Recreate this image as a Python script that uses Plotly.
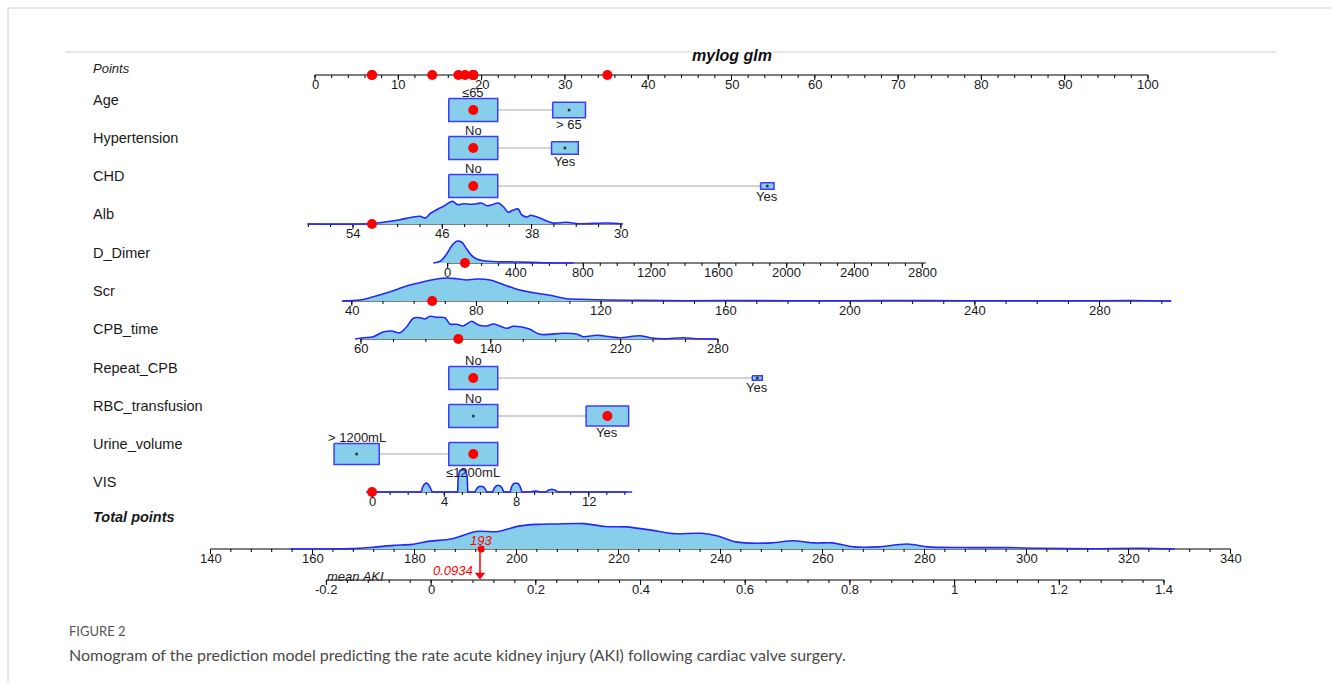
import math
import plotly.graph_objects as go

W, H = 1331, 682

# ---------------- data ----------------
points_ticks = [0, 10, 20, 30, 40, 50, 60, 70, 80, 90, 100]
points_minor = 2

# categorical variables: levels, points, relative frequency
age_levels = ["≤65", "> 65"]
age_points = [19.0, 30.5]
age_freq = [0.69, 0.31]

ht_levels = ["No", "Yes"]
ht_points = [19.0, 30.0]
ht_freq = [0.77, 0.23]

chd_levels = ["No", "Yes"]
chd_points = [19.0, 54.3]
chd_freq = [0.93, 0.07]

rep_levels = ["No", "Yes"]
rep_points = [19.0, 53.1]
rep_freq = [0.96, 0.04]

rbc_levels = ["No", "Yes"]
rbc_points = [19.0, 35.1]
rbc_freq = [0.57, 0.43]

urine_levels = ["> 1200mL", "≤1200mL"]
urine_points = [5.0, 19.0]
urine_freq = [0.46, 0.54]

# continuous variables: ticks, axis extent, minor step, (ref value, points at ref, points per unit)
alb_ticks = [54, 46, 38, 30]
alb_extent = [58, 30]
alb_minor = 2
alb_scale = (54, 4.56, -1.34)
alb_dens_x = [58.1, 52.5, 51.0, 49.8, 48.6, 48.0, 47.5, 47.1, 46.5, 45.8, 45.1, 44.6, 44.1, 43.5,
              42.9, 42.5, 42.0, 41.6, 41.0, 40.5, 40.1, 39.7, 39.2, 38.9, 38.4, 38.1, 37.7, 37.2,
              36.1, 34.9, 33.7, 31.3, 29.8]
alb_dens_h = [0, 0.3, 2.3, 4.3, 7.0, 7.7, 6.0, 10.3, 14.3, 18.3, 22.7, 19.3, 20.3, 19.7,
              20.3, 21.0, 18.3, 19.0, 21.0, 17.0, 11.7, 13.7, 15.0, 9.3, 7.0, 8.7, 7.7, 5.7,
              1.0, 1.7, 0.3, 1.0, 0]

dd_ticks = [0, 400, 800, 1200, 1600, 2000, 2400, 2800]
dd_extent = [0, 2820]
dd_minor = 100
dd_scale = (0, 15.93, 0.02035)
dd_dens_x = [-85, -45, -6, 24, 53, 83, 112, 142, 171, 210, 289, 407, 564, 741]
dd_dens_h = [0, 1.7, 9.0, 17.3, 21.7, 20.7, 14.0, 7.3, 4.0, 2.3, 1.3, 1.0, 0.3, 0]

scr_ticks = [40, 80, 120, 160, 200, 240, 280]
scr_extent = [37, 303]
scr_minor = 10
scr_scale = (40, 4.42, 0.374)
scr_dens_x = [36.8, 42.6, 46.9, 52.3, 57.6, 63.0, 67.2, 70.5, 73.7, 76.9, 80.1, 84.4, 87.6, 93.0,
              98.3, 103.6, 109.0, 113.3, 121.8, 132.5, 148.5, 160, 180, 200, 215, 235, 250, 275,
              290, 303]
scr_dens_h = [0, 1.0, 4.3, 9.3, 15.0, 19.3, 22.0, 23.0, 22.3, 21.0, 22.0, 21.0, 17.7, 11.7,
              8.3, 5.7, 2.3, 1.7, 1.0, 0.7, 0.3, 0.5, 0.2, 0.3, 0.5, 0.2, 0.3, 0.2,
              0.5, 0]

cpb_ticks = [60, 140, 220, 280]
cpb_extent = [60, 280]
cpb_minor = 20
cpb_scale = (60, 5.52, 0.1948)
cpb_dens_x = [56.3, 61.4, 67.6, 73.7, 78.9, 84.0, 88.2, 92.2, 96.4, 99.4, 102.5, 106.6, 111.8,
              114.8, 119.0, 123.0, 128.2, 132.3, 137.4, 141.5, 145.6, 149.8, 153.8, 158.0,
              164.1, 170.3, 184.7, 192.9, 197.0, 205.2, 213.4, 219.6, 231.9, 238.1, 246.3,
              258.6, 266.8, 279.2]
cpb_dens_h = [0, 1.3, 2.3, 7.0, 8.0, 6.3, 12.3, 20.7, 21.3, 20.0, 22.7, 21.7, 21.3,
              15.0, 14.7, 13.0, 17.7, 14.0, 13.0, 15.0, 13.0, 10.7, 12.7, 12.3,
              9.7, 4.7, 5.7, 5.0, 2.3, 3.7, 2.3, 1.3, 3.3, 1.3, 0.3,
              1.3, 0.3, 0]

vis_ticks = [0, 4, 8, 12]
vis_extent = [0, 14.1]
vis_minor = 1
vis_scale = (0, 6.85, 2.168)
vis_dens_x = [-0.33, 0.8, 1.0, 1.27, 1.7, 1.85, 2.0, 2.15, 2.26, 2.72, 2.8, 2.9, 3.0, 3.1, 3.2, 3.33,
              3.8, 4.0, 4.2, 4.74, 4.77, 4.85, 5.02, 5.18, 5.27, 5.3, 5.7, 5.8, 5.9, 6.02, 6.15,
              6.25, 6.35, 6.68, 6.77, 6.87, 6.98, 7.1, 7.2, 7.29, 7.65, 7.73, 7.83, 7.97, 8.1,
              8.2, 8.3, 8.7, 8.85, 9.0, 9.15, 9.25, 9.65, 9.75, 9.95, 10.15, 10.28, 11.7, 11.95,
              12.2, 12.6, 12.9, 13.2, 14.4]
vis_dens_h = [0, 0, 0.5, 0, 0, 0.5, 0.7, 0.5, 0, 0, 5, 8, 9, 8, 5, 0,
              0, 0.3, 0, 0, 15, 21, 23, 21, 15, 0, 0, 3.5, 5.2, 5.7, 5.2,
              3.5, 0, 0, 4, 6.1, 6.7, 6.1, 4, 0, 0, 5.5, 8.3, 9, 8.3,
              5.5, 0, 0, 0.8, 1.0, 0.8, 0, 0, 1.8, 2.7, 1.8, 0, 0, 0.3,
              0, 0, 0.3, 0, 0]

total_ticks = [140, 160, 180, 200, 220, 240, 260, 280, 300, 320, 340]
total_minor = 4
total_dens_x = [155.7, 167.6, 171.8, 176.0, 179.5, 183.0, 187.2, 192.1, 196.4, 200.5, 204.0,
                207.5, 213.2, 217.4, 221.5, 226.4, 230.7, 236.3, 239.5, 243.0, 250.0, 254.2,
                258.4, 261.9, 266.1, 271.0, 276.6, 280.8, 289.2, 296.2, 302.5, 313.0, 322.1, 329.1]
total_dens_h = [0, 0.4, 1.8, 3.6, 4.6, 7.9, 10.0, 17.5, 17.5, 22.9, 24.6,
                25.0, 25.4, 22.5, 22.1, 18.9, 15.4, 15.7, 13.0, 7.1, 6.1, 8.2,
                6.1, 6.1, 2.1, 2.1, 5.0, 2.1, 1.4, 1.4, 0.7, 0.3, 0.7, 0]

aki_ticks = [-0.2, 0, 0.2, 0.4, 0.6, 0.8, 1, 1.2, 1.4]
aki_minor = 0.04
mean_aki_pred = 0.0934

# patient shown in red
patient = {"Age": "≤65", "Hypertension": "No", "CHD": "No", "Alb": 52.3, "D_Dimer": 102,
           "Scr": 65.8, "CPB_time": 120, "Repeat_CPB": "No", "RBC_transfusion": "Yes",
           "Urine_volume": "≤1200mL", "VIS": 0}

row_names = ["Age", "Hypertension", "CHD", "Alb", "D_Dimer", "Scr", "CPB_time",
             "Repeat_CPB", "RBC_transfusion", "Urine_volume", "VIS"]

# ---------------- layout constants (pixels) ----------------
PX_PER_POINT = 8.33
X0_POINT = 315.0
row_label_y = [100, 138, 176, 214, 253, 291, 329, 368, 406, 444, 482]
ROW_OFF = 10
POINTS_Y = 75
TOTAL_Y = 549
AKI_Y = 580
TOT_PX0, TOT_PPU = 210.5, 5.1      # 140 at 210.5 px
AKI_PX0, AKI_PPU = 431.1, 523.5    # 0 at 431.1 px

SKY = "#87CEEB"
BLUE = "#2626ff"
TXT = "#1a1a1a"
FONT = "Liberation Sans, Arial, sans-serif"

fig = go.Figure()
ann = []


def lin(scale):
    ref, pref, slope = scale
    return lambda v: pref + slope * (v - ref)


ident = lambda v: v


def add_axis(xa, lo, hi, majors, step, y0, fn, fmt=lambda t: f"{t:g}"):
    xs = [fn(lo), fn(hi), None]
    ys = [y0, y0, None]
    a, b = min(lo, hi), max(lo, hi)
    n0 = math.ceil(a / step - 1e-6)
    n1 = math.floor(b / step + 1e-6)
    for n in range(n0, n1 + 1):
        v = n * step
        xs += [fn(v), fn(v), None]
        ys += [y0, y0 + 3, None]
    for t in majors:
        xs += [fn(t), fn(t), None]
        ys += [y0, y0 + 5, None]
        ann.append(dict(x=fn(t), y=y0 + 9.5, xref=xa, yref="y", text=fmt(t), showarrow=False,
                        font=dict(size=13, color=TXT, family=FONT), xanchor="center",
                        yanchor="middle"))
    fig.add_trace(go.Scatter(x=xs, y=ys, mode="lines", line=dict(color="black", width=1),
                             xaxis=xa, yaxis="y", hoverinfo="skip", showlegend=False))


def add_density(xa, dx, dh, y0, fn, shape="spline"):
    xs = [fn(v) for v in dx]
    ys = [y0 - h for h in dh]
    fig.add_trace(go.Scatter(x=xs, y=ys, mode="lines", fill="toself", fillcolor=SKY,
                             line=dict(color=BLUE, width=1.6, shape=shape, smoothing=0.9),
                             xaxis=xa, yaxis="y", hoverinfo="skip", showlegend=False))


def add_dot(xa, x, y, red=True):
    fig.add_trace(go.Scatter(x=[x], y=[y], mode="markers",
                             marker=dict(color="red" if red else "#333333", size=10 if red else 3,
                                         line=dict(width=0)),
                             xaxis=xa, yaxis="y", hoverinfo="skip", showlegend=False))


def add_cat(levels, pts, freq, chosen, y0):
    fmax = max(freq)
    fig.add_trace(go.Scatter(x=[min(pts), max(pts)], y=[y0, y0], mode="lines",
                             line=dict(color="#c4c4c4", width=1.5), xaxis="x", yaxis="y",
                             hoverinfo="skip", showlegend=False))
    for i, (lev, p, f) in enumerate(zip(levels, pts, freq)):
        s = math.sqrt(f / fmax)
        hw = 2.94 * s
        hh = 11.5 * s
        fig.add_trace(go.Scatter(x=[p - hw, p + hw, p + hw, p - hw, p - hw],
                                 y=[y0 - hh, y0 - hh, y0 + hh, y0 + hh, y0 - hh],
                                 mode="lines", fill="toself", fillcolor=SKY,
                                 line=dict(color="#3c3cff", width=1.5), xaxis="x", yaxis="y",
                                 hoverinfo="skip", showlegend=False))
        ly = y0 - hh - 6.0 if i == 0 else y0 + hh + 7
        ann.append(dict(x=p, y=ly, xref="x", yref="y", text=lev, showarrow=False,
                        font=dict(size=13, color=TXT, family=FONT), xanchor="center",
                        yanchor="middle"))
        add_dot("x", p, y0, red=(lev == chosen))
    return pts[levels.index(chosen)]


# ---------------- Points axis ----------------
add_axis("x", 0, 100, points_ticks, points_minor, POINTS_Y, ident)

patient_points = []

cats = {
    "Age": (age_levels, age_points, age_freq),
    "Hypertension": (ht_levels, ht_points, ht_freq),
    "CHD": (chd_levels, chd_points, chd_freq),
    "Repeat_CPB": (rep_levels, rep_points, rep_freq),
    "RBC_transfusion": (rbc_levels, rbc_points, rbc_freq),
    "Urine_volume": (urine_levels, urine_points, urine_freq),
}
conts = {
    "Alb": (alb_ticks, alb_extent, alb_minor, alb_scale, alb_dens_x, alb_dens_h, "spline"),
    "D_Dimer": (dd_ticks, dd_extent, dd_minor, dd_scale, dd_dens_x, dd_dens_h, "spline"),
    "Scr": (scr_ticks, scr_extent, scr_minor, scr_scale, scr_dens_x, scr_dens_h, "spline"),
    "CPB_time": (cpb_ticks, cpb_extent, cpb_minor, cpb_scale, cpb_dens_x, cpb_dens_h, "spline"),
    "VIS": (vis_ticks, vis_extent, vis_minor, vis_scale, vis_dens_x, vis_dens_h, "linear"),
}

for name, ly in zip(row_names, row_label_y):
    y0 = ly + ROW_OFF
    if name in cats:
        lv, pt, fq = cats[name]
        patient_points.append(add_cat(lv, pt, fq, patient[name], y0))
    else:
        ticks, ext, mstep, sc, dx, dh, shp = conts[name]
        fn = lin(sc)
        add_axis("x", ext[0], ext[1], ticks, mstep, y0, fn)
        add_density("x", dx, dh, y0, fn, shp)
        pp = fn(patient[name])
        add_dot("x", pp, y0)
        patient_points.append(pp)
    ann.append(dict(x=91 / W, y=ly, xref="paper", yref="y", text=name, showarrow=False,
                    font=dict(size=14.5, color=TXT, family=FONT), xanchor="left", yanchor="middle"))

# red dots on Points axis
fig.add_trace(go.Scatter(x=patient_points, y=[POINTS_Y] * len(patient_points), mode="markers",
                         marker=dict(color="red", size=10), xaxis="x", yaxis="y",
                         hoverinfo="skip", showlegend=False))

# ---------------- Total points ----------------
total = sum(patient_points)
add_axis("x2", 140, 340, total_ticks, total_minor, TOTAL_Y, ident)
add_density("x2", total_dens_x, total_dens_h, TOTAL_Y, ident)

# ---------------- mean AKI ----------------
add_axis("x3", -0.2, 1.4, aki_ticks, aki_minor, AKI_Y, ident)

fig.add_trace(go.Scatter(x=[mean_aki_pred, mean_aki_pred], y=[TOTAL_Y, AKI_Y - 5], mode="lines",
                         line=dict(color="red", width=1.5), xaxis="x3", yaxis="y",
                         hoverinfo="skip", showlegend=False))
fig.add_trace(go.Scatter(x=[mean_aki_pred], y=[AKI_Y - 5], mode="markers",
                         marker=dict(symbol="triangle-down", color="red", size=9),
                         xaxis="x3", yaxis="y", hoverinfo="skip", showlegend=False))
fig.add_trace(go.Scatter(x=[total], y=[TOTAL_Y], mode="markers",
                         marker=dict(color="red", size=7), xaxis="x2", yaxis="y",
                         hoverinfo="skip", showlegend=False))
ann.append(dict(x=total, y=TOTAL_Y - 9, xref="x2", yref="y", text=f"<i>{round(total)}</i>",
                showarrow=False, font=dict(size=13, color="red", family=FONT),
                xanchor="center", yanchor="middle"))
ann.append(dict(x=mean_aki_pred, y=AKI_Y - 10, xref="x3", yref="y", text=f"<i>{mean_aki_pred}</i>",
                showarrow=False, font=dict(size=13, color="red", family=FONT),
                xanchor="right", yanchor="middle", xshift=-5))

# ---------------- labels ----------------
ann.append(dict(x=91 / W, y=68, xref="paper", yref="y", text="<i>Points</i>", showarrow=False,
                font=dict(size=13, color=TXT, family=FONT), xanchor="left", yanchor="middle"))
ann.append(dict(x=91 / W, y=517, xref="paper", yref="y", text="<b><i>Total points</i></b>",
                showarrow=False, font=dict(size=14.5, color=TXT, family=FONT), xanchor="left",
                yanchor="middle"))
ann.append(dict(x=386 / W, y=576, xref="paper", yref="y", text="<i>mean AKI</i>", showarrow=False,
                font=dict(size=13, color=TXT, family=FONT), xanchor="right", yanchor="middle"))
ann.append(dict(x=732 / W, y=55, xref="paper", yref="y", text="<b><i>mylog glm</i></b>",
                showarrow=False, font=dict(size=16, color="#111", family=FONT),
                xanchor="center", yanchor="middle", bgcolor="white", borderpad=0))
ann.append(dict(x=67 / W, y=631, xref="paper", yref="y", text="FIGURE 2", showarrow=False,
                font=dict(size=13, color="#555555", family="Lato, Open Sans, sans-serif"),
                xanchor="left", yanchor="middle"))
ann.append(dict(x=67 / W, y=654, xref="paper", yref="y",
                text="Nomogram of the prediction model predicting the rate acute kidney injury (AKI) following cardiac valve surgery.",
                showarrow=False, font=dict(size=16, color="#4a4a4a", family="Lato, Open Sans, sans-serif"),
                xanchor="left", yanchor="middle"))

shapes = [
    dict(type="line", xref="paper", yref="paper", x0=8 / W, x1=1, y0=1 - 8 / H, y1=1 - 8 / H,
         line=dict(color="#d0d0d0", width=1), layer="below"),
    dict(type="line", xref="paper", yref="paper", x0=8 / W, x1=8 / W, y0=0, y1=1 - 8 / H,
         line=dict(color="#d0d0d0", width=1), layer="below"),
    dict(type="line", xref="paper", yref="paper", x0=65 / W, x1=1276 / W, y0=1 - 52 / H,
         y1=1 - 52 / H, line=dict(color="#c8c8f0", width=1), layer="below"),
]

fig.update_layout(
    width=W, height=H, margin=dict(l=0, r=0, t=0, b=0),
    paper_bgcolor="white", plot_bgcolor="white", showlegend=False,
    font=dict(family=FONT),
    xaxis=dict(range=[-X0_POINT / PX_PER_POINT, (W - X0_POINT) / PX_PER_POINT], visible=False,
               domain=[0, 1], fixedrange=True),
    xaxis2=dict(range=[140 - TOT_PX0 / TOT_PPU, 140 + (W - TOT_PX0) / TOT_PPU], visible=False,
                overlaying="x", anchor="y", fixedrange=True),
    xaxis3=dict(range=[-AKI_PX0 / AKI_PPU, (W - AKI_PX0) / AKI_PPU], visible=False,
                overlaying="x", anchor="y", fixedrange=True),
    yaxis=dict(range=[H, 0], visible=False, domain=[0, 1], fixedrange=True),
    annotations=ann, shapes=shapes,
)

fig.write_html("out.html", config={"displayModeBar": False},
               post_script="document.body.style.margin='0px';document.body.style.overflow='hidden';")
